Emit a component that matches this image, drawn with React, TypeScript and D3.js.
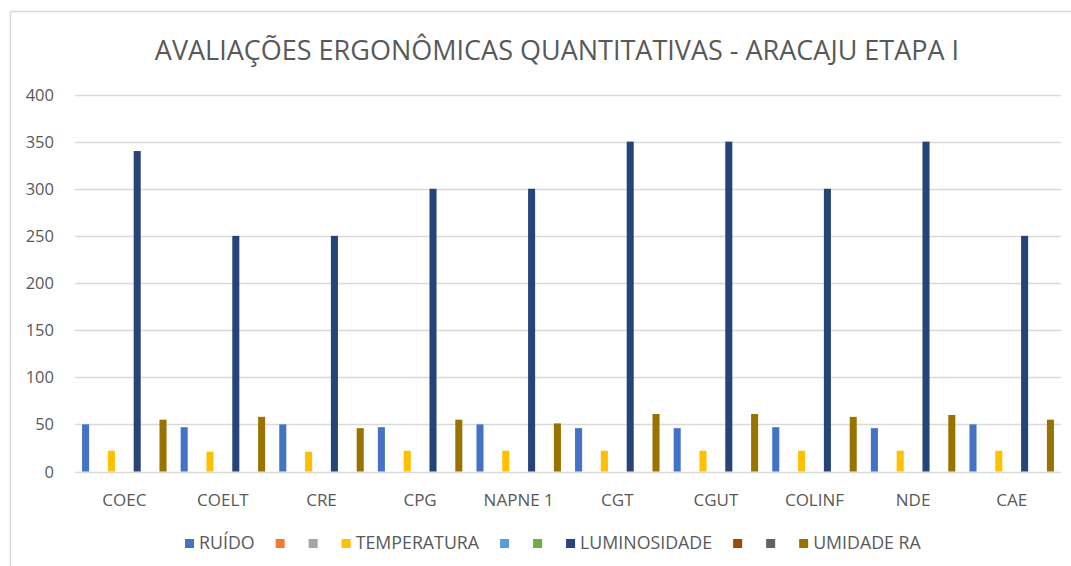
import { useEffect, useRef } from 'react';
import * as d3 from 'd3';

const categories = ['COEC', 'COELT', 'CRE', 'CPG', 'NAPNE 1', 'CGT', 'CGUT', 'COLINF', 'NDE', 'CAE'];

const seriesNames = ['RUÍDO', '', '', 'TEMPERATURA', '', '', 'LUMINOSIDADE', '', '', 'UMIDADE RA'];
const seriesColors = ['#4472C4', '#ED7D31', '#A5A5A5', '#FFC000', '#5B9BD5', '#70AD47', '#264478', '#9E480E', '#636363', '#997300'];

const ruido = [50, 47, 50, 47, 50, 46, 46, 47, 46, 50];
const temperatura = [22, 21, 21, 22, 22, 22, 22, 22, 22, 22];
const luminosidade = [340, 250, 250, 300, 300, 350, 350, 300, 350, 250];
const umidade = [55, 58, 46, 55, 51, 61, 61, 58, 60, 55];
const empty: (number | null)[] = categories.map(() => null);

const seriesValues: (number | null)[][] = [ruido, empty, empty, temperatura, empty, empty, luminosidade, empty, empty, umidade];

const yTicks = [0, 50, 100, 150, 200, 250, 300, 350, 400];
const title = 'AVALIAÇÕES ERGONÔMICAS QUANTITATIVAS - ARACAJU ETAPA I';

const W = 1071;
const H = 566;
const FONT = "'Open Sans', 'Noto Sans', sans-serif";

export default function App() {
  const ref = useRef<SVGSVGElement | null>(null);

  useEffect(() => {
    const el = ref.current;
    if (!el) return;
    const svg = d3.select(el);
    svg.selectAll('*').remove();

    const left = 75;
    const right = 1061;
    const top = 94.5;
    const bottom = 471.5;

    // frame
    svg.append('path')
      .attr('d', `M10.5,${H} V11.5 H${W}`)
      .attr('fill', 'none')
      .attr('stroke', '#d9d9d9')
      .attr('stroke-width', 1.5);

    svg.append('text')
      .text(title)
      .attr('x', 557)
      .attr('y', 60)
      .attr('text-anchor', 'middle')
      .attr('font-family', FONT)
      .attr('font-size', 27)
      .attr('fill', '#595959');

    const y = d3.scaleLinear().domain([0, 400]).range([bottom, top]);
    const x0 = d3.scaleBand<string>().domain(categories).range([left, right]);
    const x1 = d3.scaleBand<number>()
      .domain(d3.range(seriesNames.length))
      .range([0, x0.bandwidth()])
      .paddingInner(0.18)
      .paddingOuter(0.82);

    const grid = svg.append('g');
    grid.selectAll('line')
      .data(yTicks)
      .join('line')
      .attr('x1', left)
      .attr('x2', right)
      .attr('y1', (d) => Math.round(y(d)) + 0.5)
      .attr('y2', (d) => Math.round(y(d)) + 0.5)
      .attr('stroke', '#d9d9d9')
      .attr('stroke-width', 1.3);

    grid.selectAll('text')
      .data(yTicks)
      .join('text')
      .text((d) => d)
      .attr('x', 54)
      .attr('y', (d) => y(d) + 6)
      .attr('text-anchor', 'end')
      .attr('font-family', FONT)
      .attr('font-size', 16.5)
      .attr('fill', '#595959');

    const groups = svg.append('g')
      .selectAll('g')
      .data(categories)
      .join('g')
      .attr('transform', (d) => `translate(${x0(d)},0)`);

    groups.selectAll('rect')
      .data((_, ci) => seriesValues.map((vals, si) => ({ si, v: vals[ci] })).filter((d) => d.v != null))
      .join('rect')
      .attr('x', (d) => x1(d.si)!)
      .attr('width', x1.bandwidth())
      .attr('y', (d) => y(d.v as number))
      .attr('height', (d) => bottom - y(d.v as number))
      .attr('fill', (d) => seriesColors[d.si]);

    svg.append('g')
      .selectAll('text')
      .data(categories)
      .join('text')
      .text((d) => d)
      .attr('x', (d) => x0(d)! + x0.bandwidth() / 2)
      .attr('y', 506)
      .attr('text-anchor', 'middle')
      .attr('font-family', FONT)
      .attr('font-size', 17)
      .attr('fill', '#595959');

    // legend
    const legend = svg.append('g');
    let cx = 185;
    seriesNames.forEach((name, i) => {
      legend.append('rect')
        .attr('x', cx)
        .attr('y', 539)
        .attr('width', 9)
        .attr('height', 9)
        .attr('fill', seriesColors[i]);
      if (name) {
        const t = legend.append('text')
          .text(name)
          .attr('x', cx + 14)
          .attr('y', 549)
          .attr('font-family', FONT)
          .attr('font-size', 17.8)
          .attr('fill', '#595959');
        const w = (t.node() as SVGTextElement).getComputedTextLength();
        cx += 14 + w + 21;
      } else {
        cx += 33;
      }
    });
  }, []);

  return (
    <svg
      ref={ref}
      width={W}
      height={H}
      style={{ display: 'block', position: 'absolute', left: 0, top: 0, background: '#fff' }}
    />
  );
}
